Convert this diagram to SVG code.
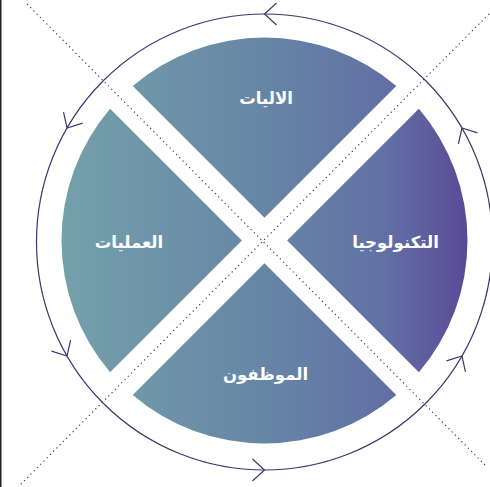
<svg xmlns="http://www.w3.org/2000/svg" xmlns:xlink="http://www.w3.org/1999/xlink" width="490" height="487" viewBox="0 0 490 487">
<style>
.wedge{fill:url(#grad);}
.label{font-family:"DejaVu Sans","Noto Sans",sans-serif;font-size:16.5px;font-weight:bold;fill:#ffffff;text-anchor:middle;direction:rtl;}
.ring{fill:none;stroke:#3c376f;stroke-width:1.2;}
.chev{fill:none;stroke:#3c376f;stroke-width:1.2;}
.dots{fill:none;stroke:#3c376f;stroke-width:1.2;stroke-dasharray:1.2 3.4;}
</style>
<defs>
<linearGradient id="grad" gradientUnits="userSpaceOnUse" x1="62" y1="0" x2="467" y2="0">
<stop offset="0" stop-color="#74a0aa"/>
<stop offset="0.5" stop-color="#6686a6"/>
<stop offset="0.8" stop-color="#6270a5"/>
<stop offset="1" stop-color="#5a4a97"/>
</linearGradient>
<path id="chev" class="chev" d="M 12 -11 L 0 0 L 12 11"/>
</defs>
<rect x="0" y="0" width="490" height="487" fill="#ffffff"/>
<rect x="0" y="0" width="1.5" height="487" fill="#222222"/>
<g id="wedge-top">
<path class="wedge" d="M 264.5 217.87 L 132.72 86.09 A 203 203 0 0 1 396.28 86.09 Z"/>
<text class="label" x="266" y="104">الاليات</text>
</g>
<g id="wedge-right">
<path class="wedge" d="M 287.13 240.5 L 418.91 108.72 A 203 203 0 0 1 418.91 372.28 Z"/>
<text class="label" x="395.5" y="248">التكنولوجيا</text>
</g>
<g id="wedge-bottom">
<path class="wedge" d="M 264.5 263.13 L 396.28 394.91 A 203 203 0 0 1 132.72 394.91 Z"/>
<text class="label" x="265.5" y="380">الموظفون</text>
</g>
<g id="wedge-left">
<path class="wedge" d="M 241.87 240.5 L 110.09 372.28 A 203 203 0 0 1 110.09 108.72 Z"/>
<text class="label" x="129" y="248">العمليات</text>
</g>
<g id="connectors">
<line class="dots" x1="27" y1="4" x2="486" y2="466"/>
<line class="dots" x1="489" y1="14" x2="19" y2="486"/>
<circle class="ring" cx="264.5" cy="242" r="228"/>
<use href="#chev" xlink:href="#chev" transform="translate(264.5,14)"/>
<use href="#chev" xlink:href="#chev" transform="translate(67.05,128) rotate(-60)"/>
<use href="#chev" xlink:href="#chev" transform="translate(67.05,356) rotate(-120)"/>
<use href="#chev" xlink:href="#chev" transform="translate(264.5,470) rotate(180)"/>
<use href="#chev" xlink:href="#chev" transform="translate(461.95,356) rotate(120)"/>
<use href="#chev" xlink:href="#chev" transform="translate(461.95,128) rotate(60)"/>
</g>
</svg>
